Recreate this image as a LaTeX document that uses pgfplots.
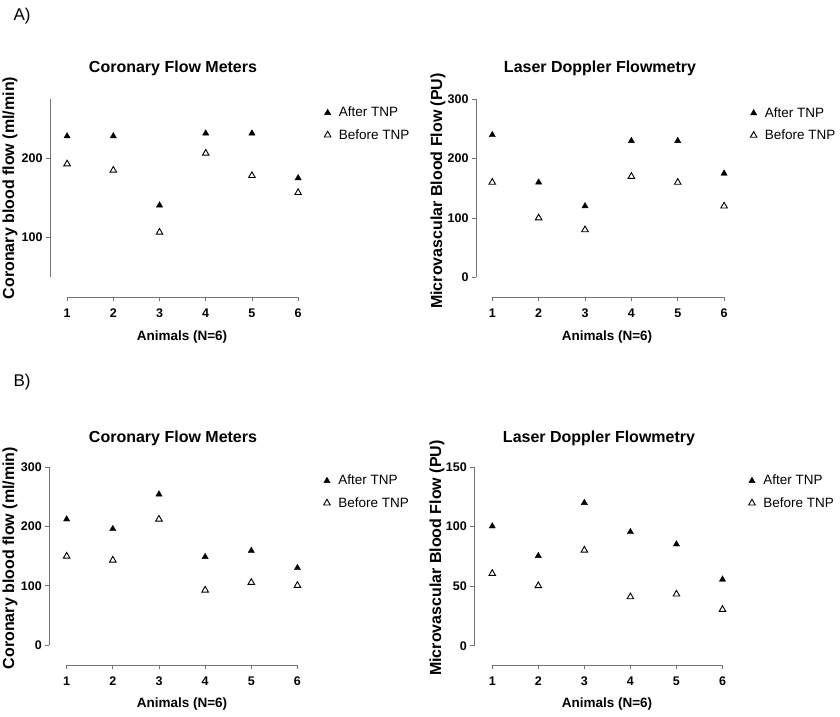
\documentclass[border=0pt]{standalone}
\usepackage{fontspec}
\setmainfont{Liberation Sans}
\usepackage{pgfplots}
\pgfplotsset{compat=1.18}
\definecolor{axgray}{gray}{0.45}
\begin{document}
\begin{tikzpicture}[x=1pt,y=1pt]
\useasboundingbox (0,0) rectangle (840,-716);
\pgfplotsset{
  prism/.style={
    scale only axis, anchor=south west,
    axis x line*=bottom, axis y line*=left,
    axis line style={draw=none},
    tick align=outside, major tick length=4pt,
    major tick style={axgray, line width=0.8pt},
    xtick={1,...,6}, xmax=6.3,
    xticklabel style={font=\bfseries\fontsize{12.5}{14}\selectfont, yshift=-4pt},
    yticklabel style={font=\bfseries\fontsize{12.5}{14}\selectfont},
    /pgf/number format/assume math mode=true,
    clip=false,
    width=262pt, height=198pt,
    legend style={at={(axis description cs:1.035,0.98)}, anchor=north west,
      draw=none, fill=none, font=\fontsize{13.5}{15}\selectfont, row sep=7pt,
      /tikz/every odd column/.append style={column sep=6pt}},
    legend cell align=left,
  },
  after/.style={only marks, mark=triangle*, mark size=3.6pt, mark options={fill=black, draw=black}},
  before/.style={only marks, mark=triangle*, mark size=3.8pt, mark options={fill=white, draw=black, line width=0.9pt}},
}
\tikzset{ttl/.style={font=\bfseries\fontsize{16}{18}\selectfont},
  ylab/.style={font=\bfseries\fontsize{16}{18}\selectfont, rotate=90},
  xlab/.style={font=\bfseries\fontsize{13.5}{16}\selectfont},
  axl/.style={axgray, line width=0.8pt}}

% A-left
\begin{axis}[prism, at={(50pt,-297pt)}, xmin=0.63, ymin=24.4, ymax=275, ytick={100,200}]
\addplot[after] coordinates {(1,228) (2,228) (3,140.5) (4,231.6) (5,231.6) (6,175)};
\addlegendentry{After TNP}
\addplot[before] coordinates {(1,192.8) (2,184.8) (3,106.3) (4,206.3) (5,178) (6,156.5)};
\addlegendentry{Before TNP}
\draw[axl] (axis cs:0.63,50) -- (axis cs:0.63,275);
\draw[axl] (axis cs:1,24.4) -- (axis cs:6,24.4);
\end{axis}

% A-right
\begin{axis}[prism, at={(476pt,-297.3pt)}, xmin=0.649, ymin=-33.7, ymax=300, ytick={0,100,200,300}]
\addplot[after] coordinates {(1,240) (2,160) (3,120) (4,230) (5,230) (6,175)};
\addlegendentry{After TNP}
\addplot[before] coordinates {(1,160) (2,100) (3,80) (4,170) (5,160) (6,120)};
\addlegendentry{Before TNP}
\draw[axl] (axis cs:0.649,0) -- (axis cs:0.649,300);
\draw[axl] (axis cs:1,-33.7) -- (axis cs:6,-33.7);
\end{axis}

% B-left
\begin{axis}[prism, at={(49.3pt,-665pt)}, xmin=0.624, ymin=-33.6, ymax=300, ytick={0,100,200,300}]
\addplot[after] coordinates {(1,212) (2,195.7) (3,254) (4,148.6) (5,159) (6,130)};
\addlegendentry{After TNP}
\addplot[before] coordinates {(1,149.7) (2,143) (3,212) (4,92.5) (5,105.4) (6,100.4)};
\addlegendentry{Before TNP}
\draw[axl] (axis cs:0.624,0) -- (axis cs:0.624,300);
\draw[axl] (axis cs:1,-33.6) -- (axis cs:6,-33.6);
\end{axis}

% B-right
\begin{axis}[prism, at={(474.3pt,-665pt)}, xmin=0.61, ymin=-16.2, ymax=150, ytick={0,50,100,150}]
\addplot[after] coordinates {(1,100.3) (2,75.4) (3,120) (4,95.5) (5,85.2) (6,55.6)};
\addlegendentry{After TNP}
\addplot[before] coordinates {(1,60.6) (2,50.3) (3,80.2) (4,41) (5,43.3) (6,30.4)};
\addlegendentry{Before TNP}
\draw[axl] (axis cs:0.61,0) -- (axis cs:0.61,150);
\draw[axl] (axis cs:1,-16.2) -- (axis cs:6,-16.2);
\end{axis}

% panel letters
\node[anchor=west, font=\fontsize{17}{19}\selectfont] at (10,-16) {A)};
\node[anchor=west, font=\fontsize{17}{19}\selectfont] at (10,-382) {B)};
% titles
\node[ttl] at (173,-68) {Coronary Flow Meters};
\node[ttl] at (600,-68) {Laser Doppler Flowmetry};
\node[ttl] at (173,-438) {Coronary Flow Meters};
\node[ttl] at (599,-438) {Laser Doppler Flowmetry};
% y labels
\node[ylab] at (10,-188) {Coronary blood flow (ml/min)};
\node[ylab] at (438,-191) {Microvascular Blood Flow (PU)};
\node[ylab] at (10,-558) {Coronary blood flow (ml/min)};
\node[ylab] at (437,-558) {Microvascular Blood Flow (PU)};
% x labels
\node[xlab] at (182,-337) {Animals (N=6)};
\node[xlab] at (607,-337) {Animals (N=6)};
\node[xlab] at (182,-704) {Animals (N=6)};
\node[xlab] at (607,-704) {Animals (N=6)};
\end{tikzpicture}
\end{document}
